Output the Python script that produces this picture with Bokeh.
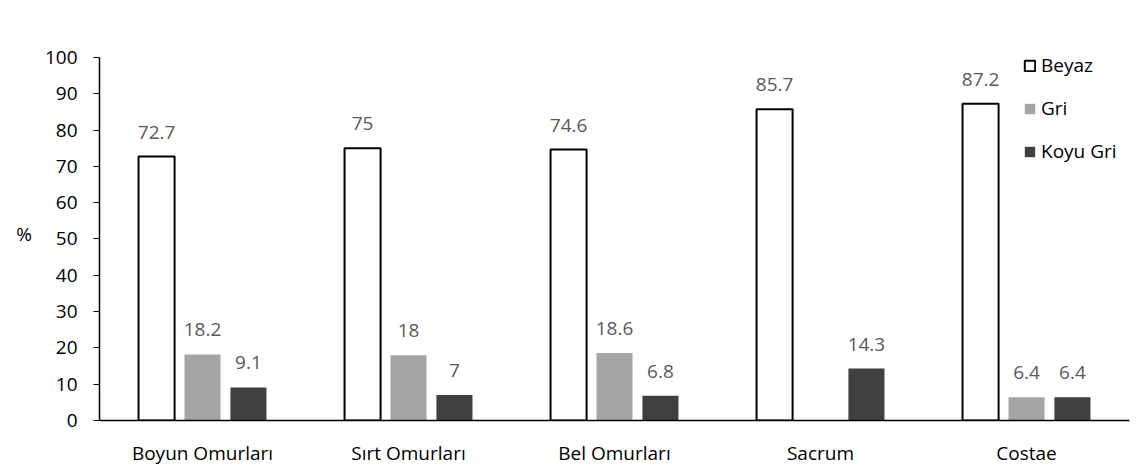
from bokeh.plotting import figure
from bokeh.models import ColumnDataSource, FactorRange, Legend, LegendItem, FixedTicker, Range1d
from bokeh.transform import dodge
from bokeh.embed import file_html
from bokeh.resources import INLINE
from bokeh.core.properties import value

categories = ["Boyun Omurları", "Sırt Omurları", "Bel Omurları", "Sacrum", "Costae"]
beyaz = [72.7, 75, 74.6, 85.7, 87.2]
gri = [18.2, 18, 18.6, 0, 6.4]
koyu_gri = [9.1, 7, 6.8, 14.3, 6.4]
y_ticks = [0, 10, 20, 30, 40, 50, 60, 70, 80, 90, 100]

def fmt(v):
    return ("%g" % v) if v else ""

src = ColumnDataSource(dict(
    cat=categories, beyaz=beyaz, gri=gri, koyu=koyu_gri,
    beyaz_t=[fmt(v) for v in beyaz], gri_t=[fmt(v) for v in gri], koyu_t=[fmt(v) for v in koyu_gri],
))

FONT = "Open Sans"
FS = "19px"

p = figure(x_range=FactorRange(*categories), y_range=Range1d(0, 103),
           width=1130, height=468, output_backend="svg", toolbar_location=None,
           min_border_left=99, min_border_right=1, min_border_top=46, min_border_bottom=44)
p.outline_line_color = None
p.xgrid.grid_line_color = None
p.ygrid.grid_line_color = None
p.background_fill_color = "white"
p.border_fill_color = "white"

bw = 0.175
off = 0.223
r1 = p.vbar(x=dodge("cat", -off, range=p.x_range), top="beyaz", width=bw, source=src,
            fill_color="white", line_color="black", line_width=2)
r2 = p.vbar(x=dodge("cat", 0, range=p.x_range), top="gri", width=bw, source=src,
            fill_color="#A5A5A5", line_color=None)
r3 = p.vbar(x=dodge("cat", off, range=p.x_range), top="koyu", width=bw, source=src,
            fill_color="#404040", line_color=None)

for o, col, t in [(-off, "beyaz", "beyaz_t"), (0, "gri", "gri_t"), (off, "koyu", "koyu_t")]:
    p.text(x=dodge("cat", o, range=p.x_range), y=col, text=t, source=src,
           text_align="center", text_baseline="bottom", y_offset=-18,
           text_font=value(FONT), text_font_size=FS, text_color="#595959")

p.yaxis.ticker = FixedTicker(ticks=y_ticks)
p.yaxis.bounds = (0, 100)
p.yaxis.minor_tick_line_color = None
p.yaxis.major_tick_in = 0
p.yaxis.major_tick_out = 6
p.yaxis.major_tick_line_color = "black"
p.yaxis.axis_line_color = "black"
p.yaxis.axis_line_width = 1.5
p.yaxis.major_label_text_font = FONT
p.yaxis.major_label_text_font_size = FS
p.yaxis.major_label_text_color = "black"
p.yaxis.major_label_standoff = 16
p.yaxis.axis_label = "%"
p.yaxis.axis_label_orientation = "horizontal"
p.yaxis.axis_label_text_font = FONT
p.yaxis.axis_label_text_font_style = "normal"
p.yaxis.axis_label_text_font_size = FS
p.yaxis.axis_label_text_color = "black"
p.yaxis.axis_label_standoff = 10

p.xaxis.major_tick_line_color = None
p.xaxis.minor_tick_line_color = None
p.xaxis.axis_line_color = "black"
p.xaxis.axis_line_width = 1.5
p.xaxis.major_label_text_font = FONT
p.xaxis.major_label_text_font_size = FS
p.xaxis.major_label_text_color = "black"
p.xaxis.major_label_standoff = 13

legend = Legend(items=[LegendItem(label="Beyaz", renderers=[r1]),
                       LegendItem(label="Gri", renderers=[r2]),
                       LegendItem(label="Koyu Gri", renderers=[r3])],
                location=(924, 256), orientation="vertical")
legend.padding = 0
legend.margin = 0
legend.spacing = 17
legend.glyph_width = 13
legend.glyph_height = 13
legend.label_height = 20
legend.label_standoff = 5
legend.label_text_font = FONT
legend.label_text_font_size = FS
legend.label_text_color = "black"
legend.border_line_color = None
legend.background_fill_alpha = 0
p.add_layout(legend)

open("out.html", "w").write(file_html(p, INLINE))
